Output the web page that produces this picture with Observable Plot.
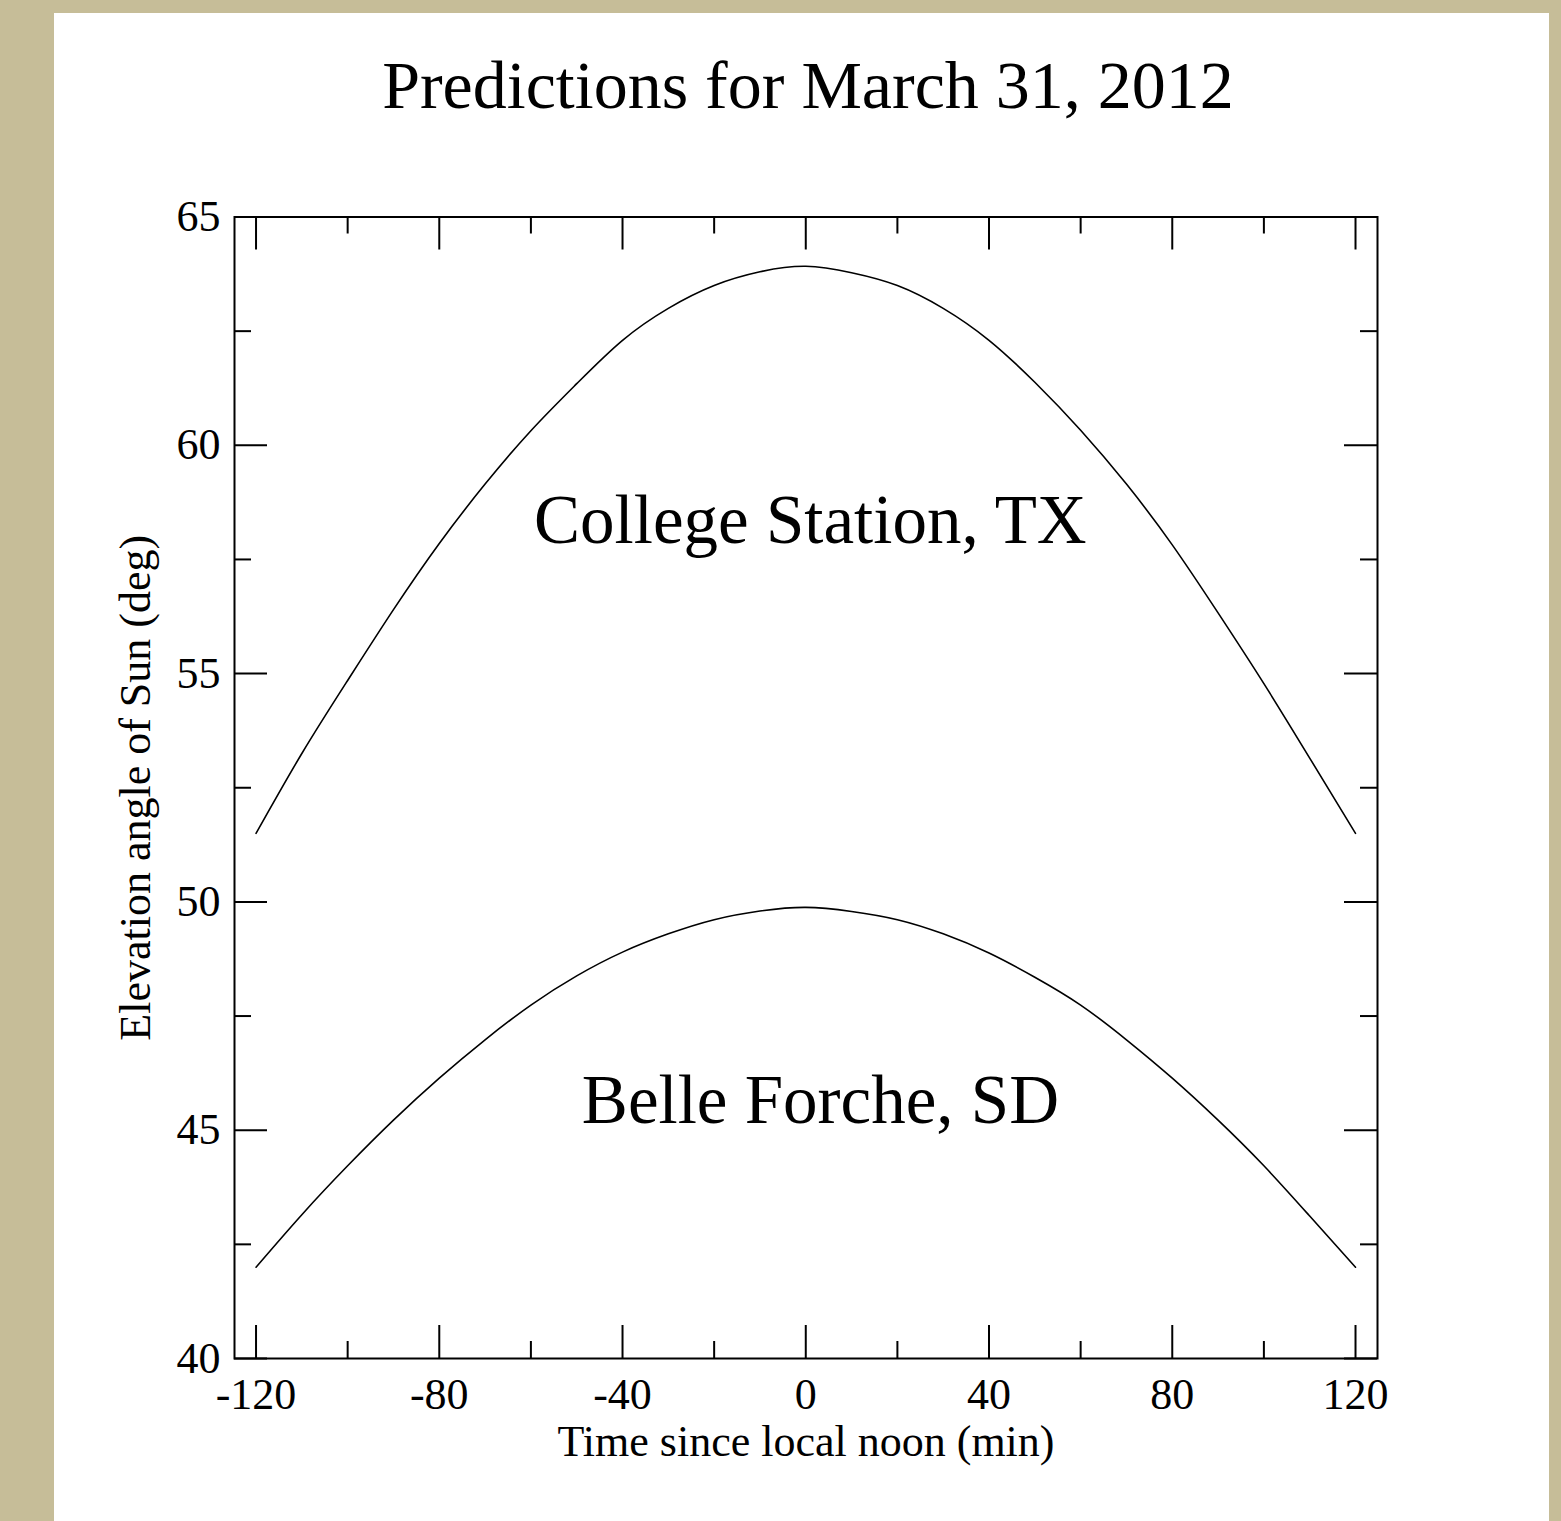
<!DOCTYPE html>
<html>
<head>
<meta charset="utf-8">
<script src="https://cdn.jsdelivr.net/npm/d3@7"></script>
<script src="https://cdn.jsdelivr.net/npm/@observablehq/plot@0.6"></script>
<style>
  html, body { margin: 0; padding: 0; }
  body { width: 1561px; height: 1521px; background: #c6bd98; position: relative; overflow: hidden;
         font-family: "Liberation Serif", "Times New Roman", serif; }
  #panel { position: absolute; left: 54px; top: 13px; width: 1495px; height: 1508px; background: #fff; }
  #title { position: absolute; left: 808px; top: 51px; transform: translateX(-50%); white-space: nowrap;
           font-size: 68px; line-height: 68px; color: #000; }
  #chart { position: absolute; left: 0; top: 140px; }
</style>
</head>
<body>
<div id="panel"></div>
<div id="title">Predictions for March 31, 2012</div>
<div id="chart"></div>
<script>
// Time since local noon (min)
const minutes = [-120, -110, -100, -90, -80, -70, -60, -50, -40, -30, -20, -10, 0,
                 10, 20, 30, 40, 50, 60, 70, 80, 90, 100, 110, 120];
// Elevation angle of Sun (deg)
const collegeStation = [51.5, 53.25, 54.85, 56.4, 57.85, 59.15, 60.32, 61.35, 62.3, 63.0, 63.5, 63.8, 63.92,
                        63.78, 63.5, 63.0, 62.3, 61.38, 60.33, 59.15, 57.82, 56.33, 54.78, 53.15, 51.5];
const belleFourche = [42.0, 43.15, 44.22, 45.22, 46.14, 46.98, 47.74, 48.38, 48.9, 49.3, 49.61, 49.8, 49.88,
                      49.79, 49.61, 49.3, 48.88, 48.35, 47.74, 46.98, 46.14, 45.22, 44.22, 43.12, 42.0];
const siteNames = ["College Station, TX", "Belle Forche, SD"];
// label anchor points in data space (minutes, degrees)
const labelMinutes = [1, 3.2];
const labelDegrees = [58.35, 45.65];

const xMajor = [-120, -80, -40, 0, 40, 80, 120];
const xMinor = [-100, -60, -20, 20, 60, 100];
const yMajor = [40, 45, 50, 55, 60, 65];
const yMinor = [42.5, 47.5, 52.5, 57.5, 62.5];

const series = [
  ...minutes.map((t, i) => ({site: siteNames[0], t, el: collegeStation[i]})),
  ...minutes.map((t, i) => ({site: siteNames[1], t, el: belleFourche[i]}))
];
const labels = siteNames.map((name, i) => ({name, t: labelMinutes[i], el: labelDegrees[i]}));

const W = 1561, H = 1381, mt = 76.5, mb = 163, ml = 234, mr = 184;
const innerH = H - mt - mb, innerW = W - ml - mr;
const major = 33, minor = 17;
const tickStyle = {stroke: "#000", strokeWidth: 2};

const chart = Plot.plot({
  width: W, height: H,
  marginTop: mt, marginBottom: mb, marginLeft: ml, marginRight: mr,
  style: {background: "transparent", fontFamily: "Liberation Serif, Times New Roman, serif", color: "#000", overflow: "visible"},
  x: {domain: [-124.7, 124.8]},
  y: {domain: [40, 65]},
  marks: [
    // inward ticks, bottom & top
    Plot.tickX(xMajor, {x: d => d, insetTop: innerH - major, ...tickStyle}),
    Plot.tickX(xMajor, {x: d => d, insetBottom: innerH - major, ...tickStyle}),
    Plot.tickX(xMinor, {x: d => d, insetTop: innerH - minor, ...tickStyle}),
    Plot.tickX(xMinor, {x: d => d, insetBottom: innerH - minor, ...tickStyle}),
    // inward ticks, left & right
    Plot.tickY(yMajor, {y: d => d, insetRight: innerW - major, ...tickStyle}),
    Plot.tickY(yMajor, {y: d => d, insetLeft: innerW - major, ...tickStyle}),
    Plot.tickY(yMinor, {y: d => d, insetRight: innerW - minor, ...tickStyle}),
    Plot.tickY(yMinor, {y: d => d, insetLeft: innerW - minor, ...tickStyle}),
    Plot.line(series, {x: "t", y: "el", z: "site", stroke: "#000", strokeWidth: 1.6, curve: "natural"}),
    Plot.text(labels, {x: "t", y: "el", text: "name", fontSize: 69, lineAnchor: "middle", fill: "#000"}),
    Plot.axisX({ticks: xMajor, tickSize: 0, tickPadding: 19, fontSize: 44, tickFormat: d => String(d),
                label: "Time since local noon (min)", labelAnchor: "center", labelOffset: 97, labelArrow: "none"}),
    Plot.axisY({ticks: yMajor, tickSize: 0, tickPadding: 14, fontSize: 44, tickFormat: d => String(d),
                label: "Elevation angle of Sun (deg)", labelAnchor: "center", labelOffset: 116, labelArrow: "none"}),
    Plot.frame({stroke: "#000", strokeWidth: 2})
  ]
});
document.getElementById("chart").appendChild(chart);
</script>
</body>
</html>
